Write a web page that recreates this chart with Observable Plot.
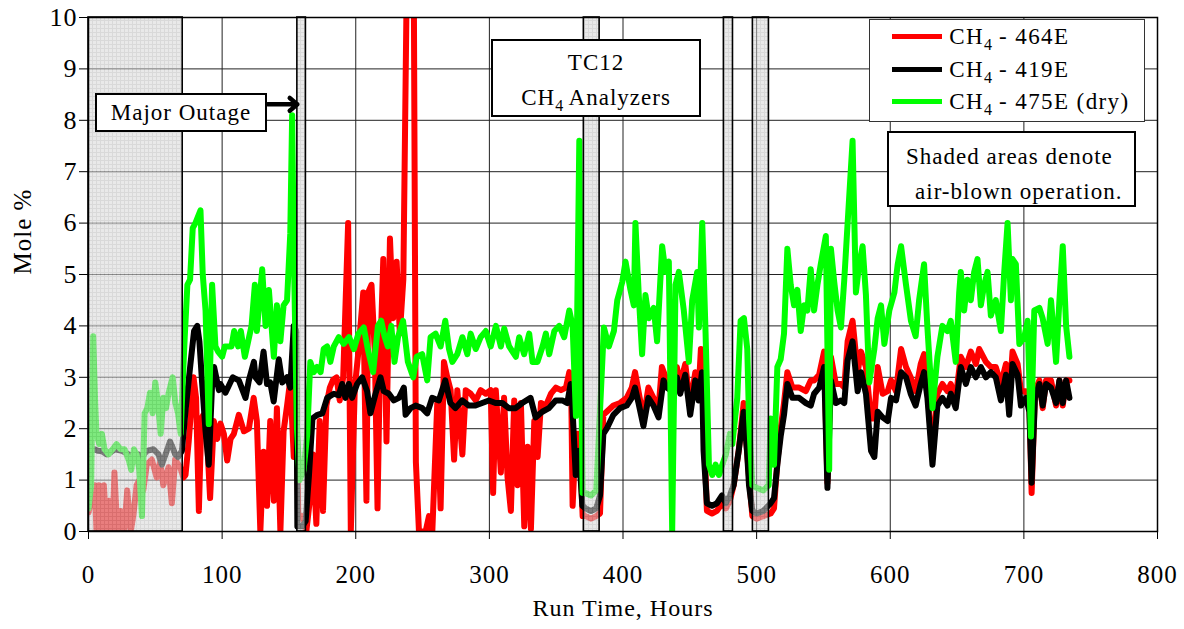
<!DOCTYPE html>
<html>
<head>
<meta charset="utf-8">
<script src="https://cdn.jsdelivr.net/npm/d3@7"></script>
<script src="https://cdn.jsdelivr.net/npm/@observablehq/plot@0.6"></script>
<style>
  html, body { margin: 0; padding: 0; background: #fff; }
  #wrap { position: relative; width: 1184px; height: 629px; overflow: hidden; font-family: "Liberation Serif", "Times New Roman", serif; color: #000; }
  .box { position: absolute; background: #fff; border: 2px solid #000; box-sizing: border-box; font-size: 23px; letter-spacing: 1px; line-height: 1; }
  .box sub { font-size: 16px; vertical-align: -6px; line-height: 0; letter-spacing: 0; }
  .row { position: absolute; left: 0; display: flex; align-items: center; white-space: nowrap; }
  .swatch { display: inline-block; width: 50px; height: 5px; }
</style>
</head>
<body>
<div id="wrap"></div>
<script>
// ---------- data (hours, mole %) ----------
const ch4_464E = [[0,0.37],[2,0.6],[4.7,0.9],[6,0.0],[7.7,0.9],[10,0.0],[11.5,0.9],[13.5,0],[15.5,0.6],[18,0],[19.4,1.15],[21.6,0],[24,0.4],[26.6,0],[29,0.8],[31.6,0],[33.5,0.3],[36,0.9],[38,1.0],[41,0.8],[43.6,1.3],[47.4,1.4],[51,1.05],[53.6,1.35],[56,0.9],[59.9,1.25],[62.4,0.55],[64.9,1.4],[68.6,1.25],[71,1.05],[72.6,1.1],[75,1.75],[78.6,3.0],[80.5,2.6],[82.6,0.4],[84.5,2.2],[86,2.27],[88.7,1.8],[91,0.65],[93.8,2.15],[96.3,1.8],[98.8,2.1],[101.3,1.9],[103.8,1.38],[106.3,1.8],[108.8,1.9],[112.5,2.27],[116.3,1.95],[120,2.0],[123.6,2.6],[126,2.15],[128.6,0],[131,1.55],[133.6,0.5],[136,2.15],[138.7,0.6],[141,2.4],[143.6,0],[146,1.95],[148.6,2.45],[151,2.95],[153.6,1.45],[155.5,2.8],[157,0.3],[160,0.3],[163,0],[165.6,0.6],[168,1.5],[170.5,0.15],[173,2.15],[175.5,0.4],[178,2.45],[180.6,2.8],[183,2.95],[185.6,3.0],[188,2.55],[190.6,3.0],[194.3,6.0],[196.3,0],[199.3,2.8],[201.8,3.45],[205.6,4.65],[208,0.6],[209.3,4.65],[211.8,4.8],[214.3,3.45],[216.3,0.45],[218,3.1],[220.6,5.3],[223,1.75],[225.6,5.7],[228,4.15],[230.6,5.25],[233,3.85],[235.6,4.9],[238,10.3],[239.3,10.3],[241.8,10.3],[243.5,10.3],[245,1.35],[247.3,0],[252.3,0],[254.8,0.3],[257.3,0],[261,2.5],[263.5,0.45],[266,3.3],[268.5,3.0],[271,2.75],[273.6,1.4],[276,2.75],[279.8,1.5],[282.3,2.75],[286,2.68],[289.8,2.55],[293.5,2.75],[297.3,2.68],[301,2.75],[302.8,0.75],[304.8,2.75],[308.6,1.15],[311,2.6],[313.6,1.05],[316.1,0.4],[318.6,2.55],[321.1,0.9],[323.6,2.5],[326.1,0.1],[328.6,1.65],[331.1,0.05],[333.6,2.15],[336.1,1.45],[338.6,2.5],[342.3,2.45],[346.1,2.68],[349.8,2.8],[353.6,2.75],[357.3,2.8],[359.8,3.1],[361.1,3.05],[362.3,0.5],[364.8,1.9],[367.3,1.9],[369.8,0.3],[372,0.3],[376,0.25],[380,0.3],[382.8,0.35],[385.3,2.27],[387.8,2.33],[392.8,2.45],[397.8,2.5],[402.8,2.6],[406.6,2.8],[409,3.1],[411.6,2.73],[415.3,2.2],[419,2.8],[422.8,2.6],[426.6,2.4],[429.1,3.2],[432.8,2.94],[436.6,2.87],[440.3,3.2],[442.8,2.87],[446.6,3.26],[450.3,2.45],[454.1,3.1],[456.6,2.73],[458.3,3.55],[460.3,2.2],[462.8,0.4],[466.6,0.35],[470.3,0.4],[474.1,0.55],[477,0.45],[480,0.6],[482.8,0.9],[486.6,1.57],[490.3,2.5],[492.8,1.57],[494.5,1.0],[496.8,0.3],[500,0.25],[505,0.3],[510.5,0.35],[513,0.45],[515.5,1.35],[518,2.0],[520.5,2.5],[523,3.1],[526.8,2.8],[531.8,2.8],[536.8,2.73],[540.5,2.94],[543,2.94],[546.8,3.05],[550.5,3.5],[553,0.95],[555.6,3.4],[559.3,2.87],[563.1,2.87],[565.6,2.8],[568.1,3.7],[571.8,4.1],[575.6,3.1],[578.1,3.5],[581.8,3.2],[585.6,2.2],[588.1,2.2],[590.6,3.2],[594.3,2.68],[598.1,2.73],[600.6,2.94],[604.3,2.73],[608.1,3.55],[611.8,3.2],[615.3,3.0],[619,2.73],[622.8,3.26],[625.3,3.45],[627.8,2.8],[631.6,1.45],[635.3,2.68],[639,2.87],[642.8,2.73],[645.3,2.87],[649,2.6],[652.8,3.4],[656.6,3.2],[660.3,3.5],[664.1,3.26],[666.6,3.55],[671.6,3.3],[675.3,3.2],[679,3.2],[682.8,2.87],[686.6,3.26],[689,2.55],[691.5,3.5],[695.3,3.26],[697.8,2.73],[701.6,2.73],[704.1,2.55],[705.8,0.75],[708.3,2.73],[711.6,2.94],[714.1,2.4],[716.6,2.94],[720.3,2.94],[724.1,2.45],[726.6,2.94],[729.1,2.45],[731.6,2.94],[734.1,2.94]];

const ch4_419E = [[4.5,1.6],[7,1.57],[10,1.56],[13.7,1.5],[17,1.55],[20,1.6],[25,1.57],[30,1.5],[33.7,1.4],[37.4,1.5],[40,1.45],[43.6,1.57],[48.6,1.6],[52.4,1.5],[54.9,1.3],[58.6,1.57],[61,1.75],[62.4,1.67],[64.9,1.5],[67,1.45],[69.9,1.57],[72.6,2.35],[76.3,3.26],[79,3.9],[81.4,4.0],[83,3.7],[85,2.9],[87.6,1.95],[90,1.3],[92.5,2.87],[94,3.2],[97.6,2.75],[98.7,2.87],[102.5,2.7],[108,3.0],[112.5,2.94],[117.5,2.6],[120,2.94],[123.8,3.3],[125,3.0],[128,2.9],[131,3.5],[133.6,2.87],[136,2.9],[138.6,2.53],[142.4,3.35],[145,2.9],[148.6,3.0],[151,2.8],[153.6,4.0],[155.5,3.9],[156.3,0.1],[160,0.1],[162.5,0.2],[165,1.1],[167.6,2.2],[171.4,2.27],[175,2.3],[178.6,2.6],[183.6,2.68],[187.3,2.65],[189.8,2.87],[192.3,2.6],[194.8,2.87],[197.3,2.6],[201,2.87],[204.8,3.0],[208.5,2.73],[211,2.3],[214.8,2.68],[218.5,3.0],[221,2.73],[224.8,2.68],[228.5,2.55],[232.3,2.6],[236,2.8],[237.3,2.27],[241,2.4],[244.8,2.45],[249.7,2.4],[253.5,2.3],[257.2,2.6],[262.2,2.55],[267,2.94],[270.8,2.5],[274.6,2.4],[279.6,2.55],[284.6,2.45],[289.6,2.45],[294.6,2.5],[299.6,2.55],[304.6,2.5],[309.6,2.5],[314.6,2.4],[319.6,2.4],[324.6,2.5],[330.8,2.6],[334.6,2.22],[339.6,2.33],[344.6,2.4],[349.6,2.55],[354.6,2.55],[358.3,2.5],[360.8,2.87],[362,2.5],[364.6,1.1],[367,1.57],[369.6,0.5],[372,0.45],[376,0.4],[380,0.45],[382.8,0.7],[385.3,1.9],[387.8,2.0],[392.8,2.27],[397.8,2.4],[402.8,2.45],[406.6,2.6],[409,2.8],[411.6,2.5],[415.3,2.05],[419,2.6],[422.8,2.45],[426.6,2.22],[430.3,2.94],[432.8,2.8],[436.6,2.73],[440.3,3.0],[442.8,2.68],[446.6,3.05],[450.3,2.27],[454.1,2.94],[456.6,2.55],[459.1,3.1],[460.3,1.57],[462.8,0.55],[466.6,0.5],[470.3,0.55],[474.1,0.7],[477,0.55],[480,0.7],[482.8,0.9],[486.6,1.57],[490.3,2.33],[492.8,1.57],[494.3,0.9],[496.8,0.4],[500,0.35],[505,0.4],[510.5,0.55],[513,0.65],[515.5,1.3],[518,1.85],[520.5,2.27],[523,2.87],[526.8,2.6],[531.8,2.6],[536.8,2.5],[540.5,2.45],[543,2.68],[546.8,2.8],[550.5,3.2],[553,0.85],[555.6,2.94],[559.3,2.5],[563.1,2.55],[565.6,2.5],[568.1,3.33],[571.8,3.7],[575.6,2.73],[578.1,3.1],[581.8,2.68],[585.6,1.57],[588.1,1.45],[590.6,2.33],[594.3,2.22],[598.1,2.15],[600.6,2.6],[604.3,2.55],[608.1,3.1],[611.8,3.0],[615.3,2.68],[619,2.45],[622.8,2.87],[625.3,3.1],[627.8,2.6],[631.6,1.3],[635.3,2.45],[639,2.6],[642.8,2.45],[645.3,2.68],[649,2.4],[652.8,3.2],[656.6,2.87],[660.3,3.2],[664.1,3.0],[667.8,3.2],[671.6,3.0],[675.3,3.1],[679,3.0],[682.8,2.55],[686.6,3.05],[689,2.27],[691.5,3.26],[695.3,3.05],[697.8,2.45],[701.6,2.6],[704.1,2.33],[705.8,0.95],[708.3,2.6],[711.6,2.87],[714.1,2.45],[716.6,2.87],[720.3,2.8],[724.1,2.5],[726.6,2.94],[729.1,2.5],[731.6,2.94],[734.1,2.6]];

const ch4_475E_dry = [[0,0.45],[2,0.9],[3.5,3.8],[5,2.5],[6,1.9],[8,1.7],[10,1.9],[12,1.6],[15,1.5],[18,1.6],[21,1.7],[24,1.6],[27,1.6],[30,1.4],[32,1.2],[34,1.6],[36,1.5],[38,1.2],[40,0.3],[42,2.3],[44,2.4],[46,2.7],[48,2.3],[50,2.9],[52,2.5],[54,1.9],[56,2.6],[58,2.4],[60,2.7],[63,3.0],[65,2.5],[67,2.3],[69,1.9],[70.5,2.9],[72,3.77],[74,4.8],[76,4.9],[78,5.9],[80,6.0],[83.8,6.25],[85.5,5.0],[87.6,4.3],[90,2.09],[92.5,4.8],[95,3.6],[97,3.5],[100,3.4],[102,3.6],[107,3.6],[109,3.9],[112,3.6],[114,3.9],[117,3.4],[119.5,3.7],[122,4.0],[124.5,4.8],[126,3.9],[130,5.1],[132.5,4.0],[135,4.7],[138.7,3.4],[141,4.4],[143.6,3.7],[146,4.4],[148.6,4.5],[151,5.8],[152.4,8.1],[153.6,5.5],[156,2.0],[158,1.0],[161,1.2],[163.7,1.9],[166,3.3],[168.6,3.1],[171,3.2],[173.7,3.1],[176,3.55],[178.6,3.6],[181,3.3],[183.6,3.6],[187.3,3.78],[191,3.65],[195,3.78],[198.6,3.55],[202,3.85],[206,3.97],[209,3.55],[213,3.1],[216.6,4.0],[219,4.1],[221.5,3.8],[224,3.6],[226.6,4.0],[229,3.3],[231.6,3.78],[235.4,4.1],[239,3.3],[243,3.0],[245.6,3.4],[249.7,3.45],[253.5,2.94],[256,3.78],[259.7,3.85],[263.5,3.6],[267,4.1],[269.8,3.55],[272.3,3.3],[276,3.45],[279.8,3.78],[283.5,3.45],[286,3.85],[289.8,3.55],[293.5,3.78],[297.3,3.9],[301,3.6],[304.9,4.0],[308.6,3.6],[311.1,3.95],[314.8,3.6],[319.8,3.4],[322.3,3.78],[326,3.45],[329.8,3.85],[332.3,3.3],[336,3.3],[339.8,3.6],[342.3,3.85],[344.8,3.45],[348.6,3.9],[352.3,4.0],[356,3.78],[359.8,4.3],[362.3,4.0],[364.8,2.25],[367.3,7.6],[368.5,3.55],[369.8,0.75],[372,0.75],[376,0.7],[380,0.8],[382,1.9],[385.7,3.97],[389.4,3.6],[393.2,3.9],[395.7,4.5],[399.4,4.85],[401.9,5.25],[405.6,4.7],[408.1,4.4],[409.3,6.0],[411.8,4.6],[414.3,3.45],[416.8,4.6],[419.3,4.15],[423,4.35],[425.5,3.7],[429.3,5.55],[431.8,5.05],[434.3,5.25],[436.8,0.0],[439.3,4.8],[441.8,5.05],[445.5,4.3],[449.3,3.3],[451.8,4.5],[455.5,5.05],[456.8,3.97],[459.3,6.0],[461.8,3.85],[464.3,1.3],[466.8,1.1],[469.3,1.3],[471.8,1.1],[474.3,1.3],[477,1.5],[480,1.9],[481.8,1.7],[485.5,2.6],[488,4.1],[490.5,4.15],[493,3.55],[494.3,2.2],[496.8,0.9],[500,0.85],[505,0.8],[509,0.9],[510.5,2.2],[513,1.3],[515.5,3.2],[518,3.35],[520.5,3.85],[523,5.5],[525.5,4.8],[528,4.4],[530.5,4.7],[533,3.9],[535.5,4.4],[538,4.3],[540.5,5.1],[543,4.3],[545.5,4.8],[548,5.2],[551.8,5.75],[554.3,1.2],[555.6,5.5],[558.1,4.85],[560.6,4.3],[563.1,3.97],[565.6,4.9],[568.1,6.0],[571.8,7.6],[574.3,4.65],[576.8,5.2],[579.3,5.55],[581.8,4.6],[584.3,2.9],[588.1,3.55],[590.6,4.15],[593.1,4.4],[595.6,3.65],[599.3,4.3],[603.1,4.65],[605.6,5.2],[608.1,5.55],[611.8,4.8],[615.5,4.1],[619,3.8],[621.6,4.5],[625.3,5.2],[627.8,3.97],[631.6,2.4],[635.3,3.4],[639,4.0],[642.8,3.9],[645.3,4.1],[649,3.3],[651.6,4.65],[652.8,5.05],[655.3,4.3],[657.8,4.9],[660.3,4.5],[662.8,5.05],[665.3,5.3],[667.8,4.4],[670.3,4.8],[672.8,5.05],[675.3,4.2],[679,4.5],[682.8,3.9],[685.3,5.05],[687.8,6.0],[690.3,4.5],[691.5,5.3],[694,5.2],[696.6,3.65],[700.3,3.78],[702.8,4.1],[705.3,1.85],[707.8,4.3],[711.6,4.35],[714,4.15],[717.8,3.65],[720.3,4.5],[724.1,3.3],[726.6,4.5],[729.1,5.55],[731.6,4.0],[734.1,3.4]];

// air-blown operating periods (start hour, end hour)
const airBlownStart = [0, 156.3, 370.7, 475.5, 497.2];
const airBlownEnd   = [70.5, 162.7, 382.5, 482.3, 509.2];

const xTicks = [0, 100, 200, 300, 400, 500, 600, 700, 800];
const yTicks = [0, 1, 2, 3, 4, 5, 6, 7, 8, 9, 10];

const seriesNames  = ["464E", "419E", "475E (dry)"];
const seriesColors = ["#ff0000", "#000000", "#00ff00"];

// annotation anchors in data units (hours, mole %)
const outageBox  = {x1: 5.2,   x2: 134,   y1: 8.52, y2: 7.76};
const outageArrow = [{x1: 134, x2: 156.3, y: 8.31}];
const tcBox      = {x1: 301.6, x2: 458.8, y1: 9.57, y2: 8.05};
const legendBox  = {x1: 584.6, x2: 791.2, y1: 9.97, y2: 7.96};
const noteBox    = {x1: 598,   x2: 784.5, y1: 7.78, y2: 6.3};

// ---------- chart ----------
const airBlown = airBlownStart.map((s, i) => ({start: s, end: airBlownEnd[i]}));
const lineOpts = (color) => ({x: d => d[0], y: d => d[1], stroke: color, strokeWidth: 6, strokeLinejoin: "round", strokeLinecap: "round", clip: true});

const chart = Plot.plot({
  width: 1184, height: 629,
  marginLeft: 88, marginRight: 27, marginTop: 17, marginBottom: 98,
  style: {fontFamily: "'Liberation Serif', 'Times New Roman', serif", fontSize: "24px", color: "#000", background: "#fff", letterSpacing: "1px", overflow: "visible"},
  x: {domain: [0, 800], label: null},
  y: {domain: [0, 10], label: null},
  marks: [
    Plot.gridX(xTicks, {stroke: "#222", strokeOpacity: 1, strokeWidth: 1}),
    Plot.gridY(yTicks, {stroke: "#222", strokeOpacity: 1, strokeWidth: 1}),
    Plot.line(ch4_464E, lineOpts(seriesColors[0])),
    Plot.line(ch4_419E, lineOpts(seriesColors[1])),
    Plot.line(ch4_475E_dry, lineOpts(seriesColors[2])),
    Plot.rect(airBlown, {x1: "start", x2: "end", fill: "url(#airShade)", fillOpacity: 0.58, stroke: "#000", strokeWidth: 1.6}),
    Plot.frame({stroke: "#000", strokeWidth: 1.5}),
    Plot.axisX(xTicks, {tickSize: 8, tickPadding: 26, stroke: "#000", tickFormat: d3.format("d"), fontSize: 25}),
    Plot.axisY(yTicks, {tickSize: 9, tickPadding: 2, stroke: "#000", tickFormat: d3.format("d"), fontSize: 26}),
    Plot.text(["Mole %"], {frameAnchor: "left", dx: -66, rotate: -90, fontSize: 25}),
    Plot.text(["Run Time, Hours"], {frameAnchor: "bottom", dy: 84, fontSize: 24}),
    Plot.arrow(outageArrow, {x1: "x1", x2: "x2", y1: "y", y2: "y", stroke: "#000", strokeWidth: 4.5, headLength: 11, headAngle: 80})
  ]
});

// pattern for the shaded (air-blown) areas
const svg = d3.select(chart);
const defs = svg.insert("defs", ":first-child");
const pat = defs.append("pattern").attr("id", "airShade").attr("width", 4).attr("height", 4).attr("patternUnits", "userSpaceOnUse");
pat.append("rect").attr("width", 4).attr("height", 4).attr("fill", "#d9d9d9");
pat.append("path").attr("d", "M0,0.5H4M0.5,0V4").attr("stroke", "#bdbdbd").attr("stroke-width", 1).attr("fill", "none");

const wrap = document.getElementById("wrap");
wrap.appendChild(chart);

// ---------- HTML annotations positioned through the chart's scales ----------
const xs = chart.scale("x"), ys = chart.scale("y");
function place(el, b) {
  const l = xs.apply(b.x1), r = xs.apply(b.x2), t = ys.apply(b.y1), bt = ys.apply(b.y2);
  el.style.left = l + "px"; el.style.top = t + "px";
  el.style.width = (r - l) + "px"; el.style.height = (bt - t) + "px";
  return el;
}
function box(b, html, extra) {
  const el = document.createElement("div");
  el.className = "box";
  el.innerHTML = html;
  if (extra) Object.assign(el.style, extra);
  wrap.appendChild(place(el, b));
  return el;
}

box(outageBox, "Major Outage", {display: "flex", alignItems: "center", justifyContent: "center"});
box(tcBox, '<div style="text-align:center;margin-top:10px">TC12</div><div style="text-align:center;margin-top:12px">CH<sub>4</sub> Analyzers</div>');

const lg = box(legendBox, "", {border: "1.5px solid #333", letterSpacing: "1.4px"});
seriesNames.forEach((name, i) => {
  const row = document.createElement("div");
  row.className = "row";
  row.style.top = (2 + i * 32.5) + "px";
  row.style.height = "30px";
  row.innerHTML = `<span class="swatch" style="background:${seriesColors[i]};margin-left:22px;margin-right:7px"></span><span>CH<sub>4</sub> - ${name}</span>`;
  lg.appendChild(row);
});

box(noteBox, '<div style="margin:12px 0 0 17px">Shaded areas denote</div><div style="margin:12px 0 0 26px">air-blown operation.</div>');
</script>
</body>
</html>
